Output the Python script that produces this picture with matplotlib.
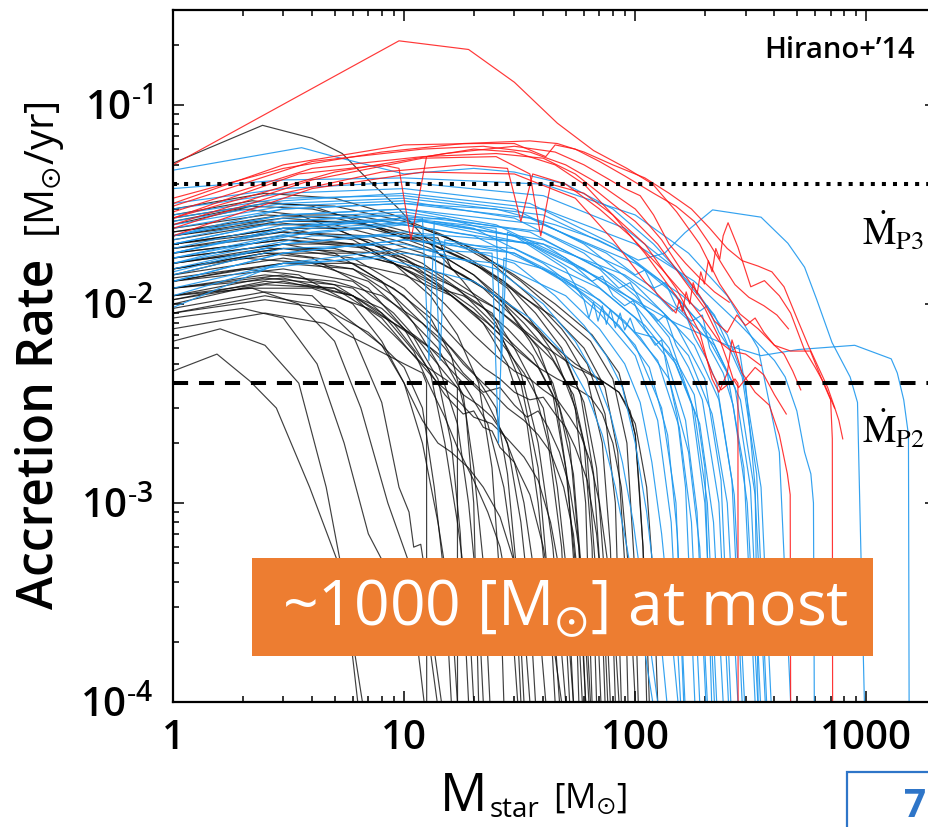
import numpy as np
import matplotlib
matplotlib.use("Agg")
import matplotlib.pyplot as plt
from matplotlib import font_manager as fm
from matplotlib.patches import Rectangle
from matplotlib.ticker import FixedLocator, LogLocator, NullFormatter


def _weight_value(w):
    if isinstance(w, str):
        return fm.weight_dict.get(w, 400)
    return int(w)


def pick_family(candidates, min_weight=600):
    """First installed family that ships a heavy (semibold/bold) face."""
    for name in candidates:
        for entry in fm.fontManager.ttflist:
            if entry.name == name and _weight_value(entry.weight) >= min_weight:
                return name
    return "DejaVu Sans"


SANS = pick_family(["Noto Sans", "Open Sans", "Lato", "Roboto"])
plt.rcParams["font.family"] = [SANS, "DejaVu Sans"]
plt.rcParams["mathtext.fontset"] = "stix"

# ---------------------------------------------------------------------------
# Protostellar accretion histories: (stellar mass [Msun], accretion rate [Msun/yr])
# ---------------------------------------------------------------------------
BLACK_TRACKS = [
    [(1, 0.0046), (1.55, 0.0056), (2.15, 0.0041), (2.8, 0.003), (3.9, 0.0012), (5.4, 0.00044), (6.6, 1e-4)],
    [(1, 0.0065), (1.6, 0.0075), (2.5, 0.0062), (3.5, 0.004), (4.6, 0.0012), (5.5, 0.0004), (6.3, 1e-4)],
    [(1, 0.0085), (2, 0.0095), (3, 0.0085), (4.2, 0.005), (5.5, 0.002), (7, 0.0007), (9, 0.0004), (11.5, 0.00018), (12.2, 1e-4)],
    [(1, 0.011), (2.2, 0.012), (3.5, 0.01), (5, 0.0065), (6.5, 0.003), (8.5, 0.001), (10.5, 0.0005), (12.5, 0.00025), (13.9, 1e-4)],
    [(1, 0.0095), (2.5, 0.0115), (4, 0.011), (6, 0.007), (8, 0.0032), (9.5, 0.0012), (10.5, 0.0009), (11, 0.0006), (11.8, 0.00062), (12.5, 0.0004), (13.2, 0.00022), (14.5, 1e-4)],
    [(1, 0.0075), (2.5, 0.009), (4.5, 0.008), (7, 0.0062), (10, 0.005), (12, 0.0045), (12.5, 0.004), (12.52, 1e-4)],
    [(1, 0.013), (2, 0.015), (3.5, 0.014), (6, 0.01), (8, 0.0065), (10, 0.004), (12, 0.002), (14, 0.0008), (16, 0.0003), (17, 1e-4)],
    [(1, 0.012), (3, 0.0135), (6, 0.011), (9, 0.007), (12, 0.005), (15, 0.0042), (17, 0.0038), (17.02, 1e-4)],
    [(1, 0.015), (2.5, 0.018), (4, 0.017), (7, 0.012), (10, 0.0075), (13, 0.0045), (15, 0.002), (17, 0.0008), (19, 0.0003), (20, 1e-4)],
    [(1, 0.017), (3, 0.02), (5, 0.018), (8, 0.013), (11, 0.008), (14, 0.005), (17, 0.0025), (19, 0.001), (21, 0.0003), (22, 1e-4)],
    [(1, 0.014), (2, 0.017), (4, 0.016), (7, 0.013), (10, 0.009), (14, 0.006), (18, 0.0035), (20, 0.0015), (22, 0.0005), (23.5, 1e-4)],
    [(1, 0.019), (3, 0.022), (6, 0.02), (9, 0.016), (13, 0.011), (17, 0.007), (21, 0.004), (24, 0.0015), (26, 0.0004), (27, 1e-4)],
    [(1, 0.012), (2.5, 0.014), (5, 0.013), (8, 0.011), (12, 0.008), (16, 0.006), (20, 0.0045), (25, 0.003), (28, 0.0014), (31, 0.0004), (33, 1e-4)],
    [(1, 0.051), (2.44, 0.079), (4, 0.068), (5.4, 0.057), (7, 0.042), (9.5, 0.03), (13, 0.02), (18, 0.013), (25, 0.008), (32, 0.004), (38, 0.0015), (42, 0.0004), (45, 1e-4)],
    [(1, 0.022), (2.5, 0.026), (5, 0.024), (8, 0.019), (12, 0.014), (16, 0.011), (22, 0.008), (28, 0.005), (34, 0.0025), (38, 0.001), (42, 0.0003), (48, 1e-4)],
    [(1, 0.025), (2, 0.03), (3.5, 0.028), (6, 0.022), (10, 0.017), (15, 0.012), (20, 0.0095), (26, 0.007), (32, 0.0045), (38, 0.002), (44, 0.0006), (50, 1e-4)],
    [(1, 0.02), (3, 0.024), (6, 0.021), (10, 0.015), (14, 0.012), (18, 0.011), (24, 0.009), (30, 0.006), (36, 0.004), (42, 0.002), (48, 0.0006), (52, 1e-4)],
    [(1, 0.016), (2.5, 0.019), (5, 0.019), (9, 0.016), (14, 0.0125), (20, 0.009), (26, 0.0065), (33, 0.0045), (40, 0.003), (46, 0.0012), (51, 0.0004), (54, 1e-4)],
    [(1, 0.028), (2.2, 0.033), (4, 0.031), (7, 0.025), (10, 0.0215), (14, 0.0215), (16, 0.015), (22, 0.012), (30, 0.0085), (38, 0.006), (45, 0.0035), (51, 0.0013), (55, 0.0004), (57, 1e-4)],
    [(1, 0.018), (3, 0.021), (6, 0.02), (10, 0.017), (15, 0.013), (21, 0.01), (28, 0.0075), (36, 0.0055), (44, 0.0035), (50, 0.0015), (55, 0.0005), (59, 1e-4)],
    [(1, 0.021), (2.5, 0.025), (5, 0.025), (9, 0.021), (14, 0.018), (20, 0.014), (27, 0.01), (35, 0.0065), (44, 0.004), (52, 0.002), (57, 0.0006), (61, 1e-4)],
    [(1, 0.013), (3, 0.016), (6, 0.016), (10, 0.014), (16, 0.011), (23, 0.008), (30, 0.006), (38, 0.0048), (47, 0.003), (54, 0.0014), (59, 0.0004), (63, 1e-4)],
    [(1, 0.024), (2.5, 0.028), (5, 0.027), (8, 0.024), (13, 0.02), (20, 0.016), (28, 0.012), (36, 0.008), (45, 0.0055), (55, 0.003), (61, 0.001), (65, 1e-4)],
    [(1, 0.019), (3, 0.023), (7, 0.022), (12, 0.018), (18, 0.014), (25, 0.011), (33, 0.008), (42, 0.0058), (52, 0.0038), (60, 0.002), (65, 0.0006), (68, 1e-4)],
    [(1, 0.015), (2.5, 0.018), (6, 0.018), (11, 0.015), (17, 0.012), (25, 0.0095), (34, 0.007), (44, 0.0052), (54, 0.0035), (62, 0.0017), (67, 0.0005), (71, 1e-4)],
    [(1, 0.026), (2.2, 0.031), (4, 0.03), (7, 0.026), (12, 0.022), (19, 0.017), (27, 0.013), (37, 0.009), (48, 0.006), (58, 0.0035), (66, 0.0014), (71, 0.0004), (74, 1e-4)],
    [(1, 0.017), (3, 0.02), (7, 0.02), (13, 0.017), (20, 0.013), (28, 0.01), (38, 0.0075), (50, 0.0052), (60, 0.0032), (68, 0.0015), (74, 0.0004), (78, 1e-4)],
    [(1, 0.022), (3, 0.026), (6, 0.026), (11, 0.022), (18, 0.017), (27, 0.013), (38, 0.0095), (50, 0.0065), (62, 0.0042), (72, 0.002), (78, 0.0006), (82, 1e-4)],
    [(1, 0.03), (2.5, 0.036), (5, 0.034), (9, 0.028), (15, 0.022), (24, 0.016), (35, 0.011), (48, 0.0075), (62, 0.005), (74, 0.0028), (82, 0.001), (87, 1e-4)],
    [(1, 0.02), (3, 0.024), (7, 0.024), (13, 0.02), (22, 0.015), (32, 0.011), (45, 0.0085), (60, 0.006), (74, 0.0038), (84, 0.0018), (90, 0.0005), (93, 1e-4)],
    [(1, 0.023), (3, 0.028), (6, 0.028), (12, 0.024), (20, 0.019), (32, 0.013), (46, 0.009), (64, 0.0065), (80, 0.0042), (92, 0.002), (99, 0.0005), (103, 1e-4)],
    [(1, 0.016), (3, 0.019), (8, 0.018), (15, 0.014), (25, 0.0095), (40, 0.0062), (55, 0.0048), (62, 0.0045), (69, 0.0042), (77, 0.0039), (85, 0.0036), (100, 0.0025), (112, 0.0012), (120, 0.0004), (125, 1e-4)],
    [(1, 0.027), (2.5, 0.032), (5, 0.031), (10, 0.026), (18, 0.02), (30, 0.014), (45, 0.01), (65, 0.007), (85, 0.0045), (100, 0.0022), (108, 0.0006), (112, 1e-4)],
    [(1, 0.01), (2, 0.012), (4, 0.012), (7, 0.0095), (11, 0.007), (16, 0.005), (22, 0.0035), (28, 0.002), (32, 0.0008), (35, 0.0003), (37, 1e-4)],
    [(1, 0.011), (3, 0.013), (6, 0.011), (9, 0.008), (13, 0.006), (18, 0.004), (23, 0.0025), (27, 0.0012), (30, 0.0005), (32, 1e-4)],
    [(1, 0.009), (2.5, 0.0105), (4.5, 0.0095), (7, 0.0072), (10, 0.0048), (12, 0.003), (13.5, 0.0012), (15, 0.0004), (16, 1e-4)],
    [(1, 0.0105), (2.5, 0.0125), (5, 0.012), (8, 0.0095), (11, 0.0068), (14, 0.0042), (16, 0.002), (17.5, 0.0007), (19, 1e-4)],
    [(1, 0.0135), (3, 0.016), (6, 0.015), (9, 0.012), (13, 0.0085), (16, 0.0055), (18.5, 0.0028), (20, 0.001), (21, 1e-4)],
    [(1, 0.012), (3, 0.014), (6, 0.012), (9, 0.008), (12, 0.0052), (15, 0.0035), (18, 0.0028), (20, 0.0029), (22, 0.0024), (24, 0.0023), (26, 0.0019), (30, 0.0016), (35, 0.0011), (40, 0.0006), (44, 0.0003), (47, 1e-4)],
    [(1, 0.0105), (2.5, 0.013), (5, 0.012), (8, 0.0085), (11, 0.0055), (14, 0.004), (17, 0.0033), (20, 0.0027), (24, 0.0025), (28, 0.0021), (33, 0.0017), (38, 0.0013), (43, 0.0008), (48, 0.0004), (52, 0.00018), (54, 1e-4)],
    [(1, 0.014), (3, 0.017), (6, 0.015), (9, 0.011), (12, 0.008), (15, 0.006), (18, 0.0045), (22, 0.0036), (26, 0.0038), (30, 0.0031), (34, 0.0027), (38, 0.0029), (42, 0.0024), (47, 0.0018), (52, 0.0012), (57, 0.0006), (62, 0.0002), (64, 1e-4)],
    [(1, 0.009), (2.5, 0.011), (5, 0.0095), (8, 0.0062), (10, 0.004), (12, 0.0026), (14, 0.002), (16, 0.0018), (19, 0.0015), (22, 0.0012), (26, 0.00085), (30, 0.0005), (33, 0.00025), (35, 1e-4)],
    [(1, 0.016), (3, 0.019), (6, 0.017), (10, 0.012), (14, 0.0082), (18, 0.006), (22, 0.0048), (26, 0.0042), (30, 0.0036), (35, 0.0033), (40, 0.0034), (45, 0.0028), (50, 0.0024), (55, 0.0019), (62, 0.0013), (68, 0.0007), (73, 0.0003), (76, 1e-4)],
    [(1, 0.013), (3, 0.015), (6, 0.013), (9, 0.009), (12, 0.0062), (15, 0.0045), (18, 0.0035), (21, 0.0031), (24, 0.0027), (27, 0.0022), (30, 0.0016), (33, 0.001), (36, 0.0005), (39, 0.0002), (41, 1e-4)],
    [(1, 0.018), (3, 0.021), (7, 0.019), (11, 0.014), (15, 0.01), (20, 0.007), (25, 0.0055), (30, 0.0046), (35, 0.0042), (40, 0.0037), (46, 0.0033), (52, 0.0027), (58, 0.0022), (64, 0.0016), (70, 0.001), (76, 0.0005), (82, 0.0002), (85, 1e-4)],
    [(1, 0.011), (2.5, 0.0135), (5, 0.0125), (8, 0.009), (11, 0.0058), (13, 0.0038), (15, 0.0027), (17, 0.0019), (20, 0.0013), (23, 0.0009), (26, 0.0006), (29, 0.0003), (31, 1e-4)],
    [(1, 0.015), (3, 0.018), (6, 0.016), (10, 0.011), (14, 0.0072), (18, 0.005), (23, 0.0038), (28, 0.003), (33, 0.0026), (38, 0.0022), (43, 0.0018), (49, 0.0012), (54, 0.0007), (58, 0.0003), (61, 1e-4)],
    [(1, 0.02), (3, 0.023), (7, 0.021), (12, 0.016), (17, 0.012), (23, 0.0085), (30, 0.0062), (38, 0.0048), (46, 0.0042), (55, 0.0038), (64, 0.0034), (72, 0.0028), (80, 0.002), (87, 0.0012), (93, 0.0005), (97, 0.0002), (100, 1e-4)],
    [(1, 0.023), (3, 0.027), (7, 0.025), (13, 0.019), (20, 0.014), (30, 0.0095), (42, 0.0065), (55, 0.005), (70, 0.0042), (85, 0.0036), (95, 0.0029), (100, 0.0022), (104, 0.0012), (108, 0.0006), (112, 0.00025), (115, 1e-4)],
]

BLUE_TRACKS = [
    [(1, 0.012), (3, 0.016), (8, 0.017), (20, 0.013), (35, 0.0085), (50, 0.0055), (62, 0.0035), (72, 0.0022), (82, 0.0012), (92, 0.0006), (105, 0.00025), (119, 1e-4)],
    [(1, 0.014), (3, 0.019), (10, 0.02), (25, 0.015), (40, 0.01), (55, 0.0065), (68, 0.0042), (78, 0.0028), (88, 0.0016), (98, 0.0008), (110, 0.0003), (125, 1e-4)],
    [(1, 0.016), (4, 0.022), (12, 0.022), (30, 0.016), (45, 0.011), (60, 0.0078), (75, 0.0055), (88, 0.0038), (100, 0.002), (112, 0.0009), (125, 0.0003), (137, 1e-4)],
    [(1, 0.0096), (2.6, 0.0152), (10, 0.018), (25, 0.016), (50, 0.011), (70, 0.0075), (90, 0.005), (105, 0.0032), (118, 0.0016), (130, 0.0007), (142, 0.00025), (153, 1e-4)],
    [(1, 0.018), (3, 0.024), (8, 0.026), (20, 0.022), (45, 0.014), (70, 0.009), (100, 0.0055), (125, 0.0026), (143, 0.0008), (157, 1e-4)],
    [(1, 0.02), (3, 0.026), (8, 0.028), (12, 0.027), (12.8, 0.0052), (13.5, 0.026), (20, 0.024), (40, 0.016), (70, 0.0098), (100, 0.0062), (130, 0.003), (150, 0.001), (162, 1e-4)],
    [(1, 0.013), (3, 0.018), (10, 0.021), (30, 0.018), (55, 0.012), (85, 0.0078), (115, 0.0048), (138, 0.0022), (152, 0.0007), (164, 1e-4)],
    [(1, 0.022), (3, 0.028), (10, 0.03), (25, 0.025), (50, 0.017), (65, 0.013), (72, 0.0138), (80, 0.011), (90, 0.0098), (98, 0.0104), (110, 0.0075), (122, 0.0062), (130, 0.0066), (140, 0.0042), (152, 0.0027), (165, 0.0012), (181, 1e-4)],
    [(1, 0.015), (3, 0.02), (8, 0.022), (13.5, 0.022), (14.3, 0.0052), (15, 0.021), (30, 0.018), (60, 0.012), (90, 0.0082), (125, 0.0052), (155, 0.0024), (175, 0.0008), (190, 1e-4)],
    [(1, 0.017), (4, 0.024), (12, 0.026), (35, 0.02), (65, 0.013), (100, 0.0085), (135, 0.0055), (165, 0.0026), (185, 0.0009), (202, 1e-4)],
    [(1, 0.011), (3, 0.016), (10, 0.019), (24, 0.018), (25.6, 0.002), (27, 0.017), (40, 0.015), (70, 0.0105), (105, 0.0068), (140, 0.0042), (170, 0.0018), (190, 0.0006), (205, 1e-4)],
    [(1, 0.025), (3, 0.031), (10, 0.033), (30, 0.027), (60, 0.018), (100, 0.011), (140, 0.0068), (175, 0.0032), (200, 0.001), (220, 1e-4)],
    [(1, 0.019), (3, 0.025), (10, 0.027), (25, 0.024), (26.4, 0.0052), (28, 0.023), (60, 0.015), (100, 0.0098), (140, 0.006), (180, 0.0029), (205, 0.001), (225, 1e-4)],
    [(1, 0.013), (3, 0.018), (10, 0.021), (30, 0.019), (70, 0.012), (110, 0.0078), (150, 0.005), (190, 0.0025), (218, 0.0008), (240, 1e-4)],
    [(1, 0.021), (3, 0.027), (10, 0.029), (35, 0.023), (70, 0.015), (85, 0.012), (95, 0.0128), (110, 0.0095), (125, 0.0082), (135, 0.0088), (150, 0.0062), (170, 0.0048), (195, 0.0033), (230, 0.001), (253, 1e-4)],
    [(1, 0.028), (3, 0.034), (10, 0.035), (30, 0.03), (60, 0.02), (100, 0.0125), (150, 0.0078), (200, 0.0042), (235, 0.0013), (259, 1e-4)],
    [(1, 0.016), (3, 0.022), (10, 0.025), (35, 0.02), (75, 0.013), (120, 0.0088), (170, 0.0055), (215, 0.0028), (250, 0.001), (278, 1e-4)],
    [(1, 0.024), (3, 0.03), (10, 0.032), (35, 0.027), (75, 0.018), (100, 0.014), (110, 0.0148), (125, 0.011), (145, 0.0092), (160, 0.0098), (180, 0.0068), (205, 0.0052), (225, 0.004), (262, 0.0013), (290, 1e-4)],
    [(1, 0.018), (3, 0.024), (10, 0.027), (40, 0.021), (80, 0.014), (130, 0.0092), (180, 0.0062), (230, 0.0033), (268, 0.0011), (297, 1e-4)],
    [(1, 0.03), (3, 0.036), (10, 0.038), (35, 0.032), (80, 0.02), (130, 0.013), (190, 0.008), (250, 0.0045), (295, 0.0015), (330, 1e-4)],
    [(1, 0.02), (3, 0.026), (10, 0.028), (40, 0.023), (90, 0.015), (120, 0.012), (135, 0.0128), (150, 0.0098), (175, 0.0082), (195, 0.0088), (210, 0.006), (240, 0.0045), (265, 0.0031), (305, 0.001), (339, 1e-4)],
    [(1, 0.026), (3, 0.032), (10, 0.034), (40, 0.028), (90, 0.018), (150, 0.011), (210, 0.007), (270, 0.0038), (315, 0.0012), (348, 1e-4)],
    [(1, 0.0145), (3, 0.02), (10, 0.023), (40, 0.02), (90, 0.014), (150, 0.0095), (220, 0.0062), (285, 0.0033), (330, 0.0011), (365, 1e-4)],
    [(1, 0.032), (3, 0.038), (10, 0.041), (40, 0.035), (90, 0.024), (150, 0.015), (220, 0.0088), (290, 0.0043), (335, 0.0014), (370, 1e-4)],
    [(1, 0.022), (3, 0.028), (10, 0.03), (40, 0.025), (100, 0.016), (160, 0.011), (190, 0.0092), (205, 0.0098), (230, 0.0072), (260, 0.0058), (280, 0.0062), (300, 0.0037), (350, 0.0012), (387, 1e-4)],
    [(1, 0.038), (3, 0.042), (10, 0.043), (40, 0.04), (100, 0.028), (170, 0.018), (250, 0.011), (340, 0.006), (420, 0.0018), (470, 1e-4)],
    [(1, 0.027), (3, 0.033), (10, 0.036), (40, 0.03), (100, 0.02), (180, 0.013), (280, 0.008), (400, 0.0052), (445, 0.0043), (500, 0.0029), (540, 0.0018), (575, 0.0014), (590, 0.001), (595, 1e-4)],
    [(1, 0.047), (3.6, 0.061), (5, 0.055), (10, 0.045), (20, 0.048), (30, 0.046), (50, 0.04), (80, 0.03), (120, 0.02), (180, 0.012), (250, 0.007), (300, 0.004), (330, 0.0012), (340, 1e-4)],
    [(1, 0.017), (4, 0.023), (12, 0.026), (30, 0.022), (50, 0.015), (60, 0.0105), (63, 0.0085), (66, 0.0102), (69, 0.0082), (72, 0.0098), (75, 0.0079), (78, 0.0094), (82, 0.0076), (86, 0.009), (90, 0.0074), (95, 0.0085), (100, 0.0072), (120, 0.0068), (150, 0.0052), (180, 0.0035), (200, 0.0015), (214, 1e-4)],
    [(1, 0.022), (3, 0.03), (10, 0.032), (25, 0.03), (45, 0.025), (69, 0.021), (103, 0.0166), (134, 0.018), (164, 0.0228), (216, 0.0297), (350, 0.0273), (457, 0.0202), (540, 0.0153), (610, 0.0105), (710, 0.0064), (850, 0.0043), (915, 0.0032), (940, 0.0008), (980, 1e-4)],
    [(1, 0.018), (4, 0.025), (15, 0.027), (40, 0.02), (80, 0.012), (150, 0.008), (250, 0.0062), (350, 0.0055), (506, 0.0059), (890, 0.0062), (1280, 0.0053), (1360, 0.0045), (1450, 0.0033), (1520, 0.0022), (1530, 1e-4)],
]

RED_TRACKS = [
    [(1, 0.05), (9.5, 0.21), (19, 0.19), (30, 0.13), (46, 0.081), (66, 0.059), (92, 0.048), (119, 0.04), (151, 0.029), (190, 0.02), (232, 0.0126), (284, 0.0089), (340, 0.0075), (400, 0.0062), (470, 0.0058), (572, 0.0058), (640, 0.0042), (700, 0.0033), (712, 0.0021), (714, 1e-4)],
    [(1, 0.034), (3, 0.048), (8, 0.058), (18, 0.064), (35, 0.066), (46, 0.064), (60, 0.058), (80, 0.05), (110, 0.043), (140, 0.036), (175, 0.03), (210, 0.024), (250, 0.019), (290, 0.0165), (340, 0.0155), (390, 0.0145), (440, 0.0122), (500, 0.0085), (560, 0.0062), (620, 0.0048), (680, 0.0038), (730, 0.003), (760, 0.0026), (790, 0.0021)],
    [(1, 0.027), (3.5, 0.045), (8, 0.05), (9.5, 0.048), (10.7, 0.021), (12.5, 0.055), (20, 0.06), (30, 0.058), (45, 0.05), (60, 0.04), (80, 0.028), (110, 0.018), (150, 0.011), (190, 0.0065), (215, 0.0045), (235, 0.0037), (255, 0.004), (270, 0.0042), (278, 0.004), (278.5, 1e-4)],
    [(1, 0.025), (4, 0.042), (12, 0.054), (25, 0.055), (35, 0.045), (39, 0.022), (43, 0.04), (60, 0.036), (80, 0.028), (110, 0.02), (150, 0.012), (190, 0.0072), (215, 0.0042), (230, 0.0036), (250, 0.0045), (262, 0.0066), (290, 0.0045), (330, 0.0036), (380, 0.0031), (420, 0.0022), (455, 0.0014), (468, 0.0011), (470, 1e-4)],
    [(1, 0.022), (4, 0.038), (12, 0.046), (30, 0.045), (55, 0.034), (80, 0.021), (110, 0.013), (150, 0.009), (155, 0.0105), (160, 0.0092), (166, 0.0115), (172, 0.01), (178, 0.0128), (185, 0.0112), (192, 0.0145), (199, 0.0126), (207, 0.0165), (215, 0.0145), (223, 0.019), (232, 0.0168), (240, 0.022), (252, 0.0256), (278, 0.0193), (316, 0.0122), (362, 0.0131), (420, 0.011), (470, 0.009), (539, 0.0059), (600, 0.0048), (655, 0.004), (728, 0.003)],
    [(1, 0.031), (4, 0.052), (12, 0.06), (22, 0.062), (35, 0.058), (50, 0.05), (70, 0.04), (100, 0.03), (130, 0.021), (160, 0.0145), (190, 0.011), (220, 0.0082), (250, 0.0072), (275, 0.0088), (300, 0.0078), (330, 0.0085), (360, 0.0072), (400, 0.0062), (440, 0.0056), (480, 0.0046), (520, 0.0037)],
    [(1, 0.029), (4, 0.048), (12, 0.055), (25, 0.057), (40, 0.054), (55, 0.045), (70, 0.036), (85, 0.03), (100, 0.026), (125, 0.02), (160, 0.0135), (200, 0.0095), (230, 0.0068), (250, 0.0052), (265, 0.0042), (280, 0.0038), (300, 0.0042), (330, 0.0048), (360, 0.0044), (400, 0.0035), (450, 0.0028)],
    [(1, 0.024), (3, 0.036), (8, 0.046), (18, 0.05), (28, 0.048), (32, 0.026), (36, 0.045), (50, 0.04), (70, 0.03), (95, 0.022), (130, 0.015), (170, 0.0105), (200, 0.0082), (230, 0.0065), (260, 0.0058), (300, 0.0056), (350, 0.0049)],
    [(1, 0.032), (3, 0.05), (10, 0.063), (20, 0.064), (30, 0.064), (41, 0.055), (45, 0.063), (55, 0.06), (70, 0.052), (90, 0.044), (120, 0.036), (150, 0.031), (180, 0.026), (210, 0.02), (240, 0.0155), (270, 0.0125), (310, 0.0108), (360, 0.0098), (410, 0.0088), (460, 0.0075)],
    [(1, 0.027), (5, 0.046), (15, 0.057), (30, 0.062), (45, 0.058), (60, 0.05), (75, 0.043), (90, 0.038), (105, 0.035), (120, 0.028), (140, 0.02), (165, 0.016), (190, 0.0135), (220, 0.0115), (255, 0.0102)],
]

MDOT_P3 = 0.04    # critical rate, dotted line
MDOT_P2 = 0.004   # critical rate, dashed line

X_TICKS = [1, 10, 100, 1000]
X_TICK_LABELS = ["1", "10", "100", "1000"]
Y_TICKS = [1e-4, 1e-3, 1e-2, 1e-1]
Y_TICK_LABELS = ["$\\mathregular{10^{\u2010" + k + "}}$" for k in ("4", "3", "2", "1")]

BLACK = "#0a0a0a"
BLUE = "#1e98ee"
RED = "#ff1414"
ORANGE = "#ed7d31"
SLIDE_BLUE = "#2e75c8"

W, H = 929, 827
fig = plt.figure(figsize=(W / 100, H / 100), dpi=100)
ax = fig.add_axes([173 / W, (H - 702) / H, (936 - 173) / W, (702 - 10) / H])

ax.set_xscale("log")
ax.set_yscale("log")
ax.set_xlim(1, 2000)
ax.set_ylim(1e-4, 0.3)

for group, color, alpha in ((BLACK_TRACKS, BLACK, 0.78), (BLUE_TRACKS, BLUE, 0.9), (RED_TRACKS, RED, 0.85)):
    for track in group:
        m, r = np.array(track).T
        ax.plot(m, r, color=color, lw=0.85, alpha=alpha, solid_joinstyle="round")

ax.axhline(MDOT_P3, color="black", lw=2.9, dashes=(1, 1.75), dash_capstyle="butt", zorder=5)
ax.axhline(MDOT_P2, color="black", lw=2.9, dashes=(3.75, 2.7), dash_capstyle="butt", zorder=5)

ax.xaxis.set_major_locator(FixedLocator(X_TICKS))
ax.set_xticklabels(X_TICK_LABELS)
ax.xaxis.set_minor_locator(LogLocator(base=10, subs=np.arange(2, 10)))
ax.xaxis.set_minor_formatter(NullFormatter())
ax.yaxis.set_major_locator(FixedLocator(Y_TICKS))
ax.set_yticklabels(Y_TICK_LABELS)
ax.yaxis.set_minor_locator(LogLocator(base=10, subs=np.arange(2, 10)))
ax.yaxis.set_minor_formatter(NullFormatter())

ax.tick_params(which="both", direction="in", top=True, right=True, width=1.1)
ax.tick_params(which="major", length=8)
ax.tick_params(which="minor", length=4.5)
ax.tick_params(axis="x", which="major", labelsize=29, pad=12)
ax.tick_params(axis="y", which="major", labelsize=29, pad=14)
for lab in ax.get_xticklabels() + ax.get_yticklabels():
    lab.set_fontweight("semibold")
for s in ax.spines.values():
    s.set_linewidth(1.6)

# y-axis title in two sizes
fig.text(40 / W, 1 - 434 / H, "Accretion Rate", rotation=90, ha="center", va="center",
         fontsize=36, fontweight="semibold")
fig.text(45 / W, 1 - 170 / H, r"[M$_{\odot}$/yr]", rotation=90, ha="center", va="center",
         fontsize=29)

# x-axis title
fig.text(440 / W, 1 - 811 / H, "M", ha="left", va="baseline", fontsize=38)
fig.text(490 / W, 1 - 817 / H, "star", ha="left", va="baseline", fontsize=20)
fig.text(553 / W, 1 - 808 / H, r"[M$_{\odot}$]", ha="left", va="baseline", fontsize=25)

# critical-rate labels
fig.text(862 / W, 1 - 245 / H, r"$\dot{\mathrm{M}}_{\mathrm{P3}}$", ha="left", va="baseline", fontsize=27)
fig.text(862 / W, 1 - 443 / H, r"$\dot{\mathrm{M}}_{\mathrm{P2}}$", ha="left", va="baseline", fontsize=27)

fig.text(915 / W, 1 - 50 / H, "Hirano+\u201914", ha="right", va="center", fontsize=21, fontweight="semibold")

# highlighted annotation
fig.add_artist(Rectangle((252 / W, 1 - 656 / H), (873 - 252) / W, (656 - 558) / H,
                         transform=fig.transFigure, facecolor=ORANGE, edgecolor="none", zorder=10))
fig.text(565 / W, 1 - 609 / H, r"~1000 [M$_{\odot}$] at most", ha="center", va="center",
         fontsize=45, color="white", zorder=11)

# slide number
fig.add_artist(Rectangle((847 / W, -0.02), 0.2, (827 - 772) / H + 0.02, transform=fig.transFigure,
                         facecolor="white", edgecolor=SLIDE_BLUE, lw=1.6, zorder=10))
fig.text(915 / W, 1 - 817 / H, "7", ha="center", va="baseline", fontsize=28,
         fontweight="bold", color=SLIDE_BLUE, zorder=11)

fig.savefig("out.png", dpi=100)
